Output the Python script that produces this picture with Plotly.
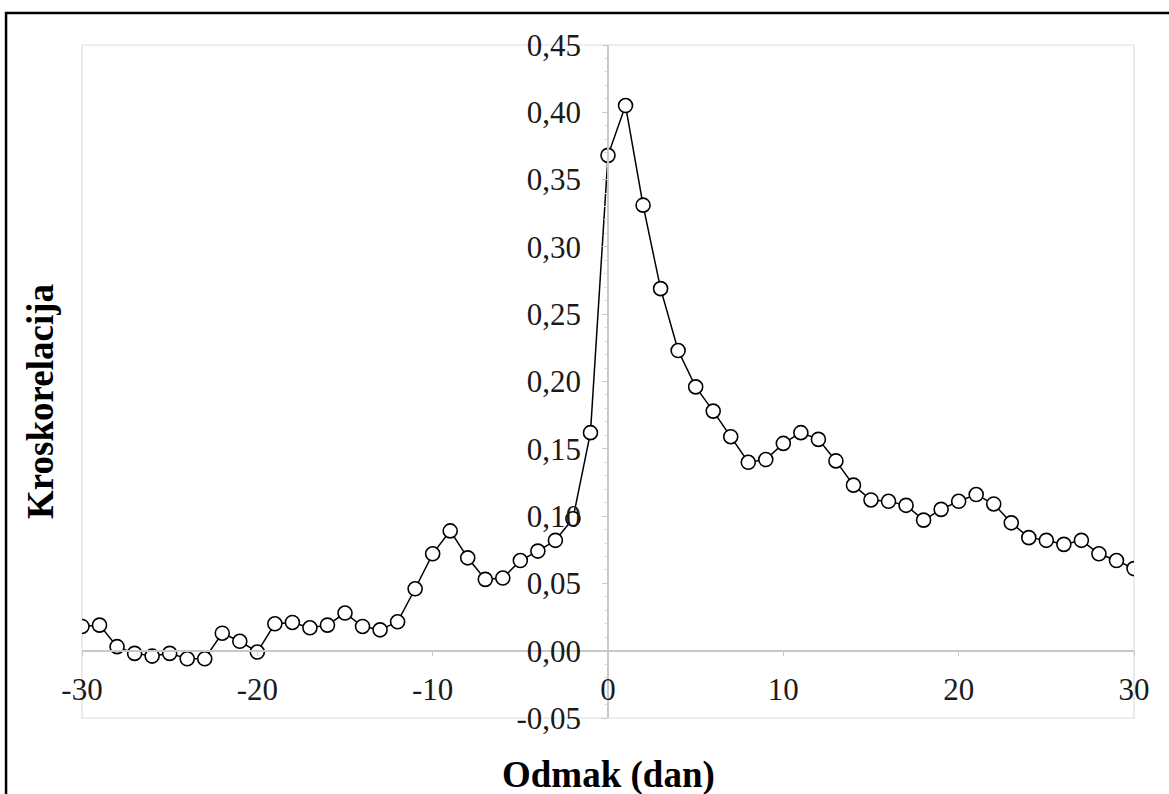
import plotly.graph_objects as go

lags = list(range(-30, 31))
xcorr = [0.018, 0.019, 0.003, -0.002, -0.004, -0.002, -0.006, -0.006, 0.013, 0.007,
         -0.001, 0.020, 0.021, 0.017, 0.019, 0.028, 0.018, 0.0155, 0.0215, 0.046,
         0.072, 0.089, 0.069, 0.053, 0.054, 0.067, 0.074, 0.082, 0.098, 0.162,
         0.368, 0.405, 0.331, 0.269, 0.223, 0.196, 0.178, 0.159, 0.140, 0.142,
         0.154, 0.162, 0.157, 0.141, 0.123, 0.112, 0.111, 0.108, 0.097, 0.105,
         0.111, 0.116, 0.109, 0.095, 0.084, 0.082, 0.079, 0.082, 0.072, 0.067,
         0.061]

x_tickvals = [-30, -20, -10, 0, 10, 20, 30]
x_ticktext = ["-30", "-20", "-10", "0", "10", "20", "30"]
y_tickvals = [-0.05, 0.0, 0.05, 0.10, 0.15, 0.20, 0.25, 0.30, 0.35, 0.40, 0.45]
y_ticktext = ["-0,05", "0,00", "0,05", "0,10", "0,15", "0,20", "0,25", "0,30", "0,35", "0,40", "0,45"]

x_title = "Odmak (dan)"
y_title = "Kroskorelacija"

fig = go.Figure()
fig.add_trace(go.Scatter(
    x=lags, y=xcorr, mode="lines+markers",
    line=dict(color="black", width=1.5),
    marker=dict(symbol="circle", size=14, color="white",
                line=dict(color="black", width=1.6)),
    showlegend=False,
))

tickfont = dict(family="Liberation Serif", size=31, color="#1a1a1a")
axis_gray = "#c8c8c8"

fig.update_layout(
    width=1169, height=794,
    margin=dict(l=82, r=35, t=45, b=76),
    paper_bgcolor="white", plot_bgcolor="white",
    xaxis=dict(
        range=[-30, 30], anchor="free", position=0.1, automargin=False,
        showgrid=False, zeroline=False, showline=True, linecolor=axis_gray, linewidth=1.5,
        ticks="outside", ticklen=5, tickcolor=axis_gray,
        tickmode="array", tickvals=x_tickvals, ticktext=x_ticktext,
        tickfont=tickfont, ticklabelstandoff=6,
    ),
    yaxis=dict(
        range=[-0.05, 0.45], anchor="free", position=0.5, automargin=False,
        showgrid=False, zeroline=False, showline=True, linecolor=axis_gray, linewidth=1.5,
        ticks="outside", ticklen=5, tickcolor=axis_gray,
        tickmode="array", tickvals=y_tickvals, ticktext=y_ticktext,
        tickfont=tickfont, ticklabelstandoff=15,
        minor=dict(tickmode="linear", tick0=0, dtick=0.01, ticks="outside",
                   ticklen=3, tickcolor="#dddddd"),
    ),
    shapes=[
        dict(type="rect", xref="paper", yref="paper", x0=0, x1=1, y0=0, y1=1,
             line=dict(color="#dedede", width=1.2), layer="below"),
        dict(type="rect", xref="paper", yref="paper", x0=-0.0722, x1=1.2, y0=-0.3, y1=1.0475,
             line=dict(color="black", width=2.5)),
    ],
    annotations=[
        dict(text=x_title, xref="paper", yref="paper", x=0.5, y=-0.084,
             xanchor="center", yanchor="middle", showarrow=False,
             font=dict(family="Liberation Serif", size=37, color="black", weight="bold")),
        dict(text=y_title, xref="paper", yref="paper", x=-0.04, y=0.471,
             xanchor="center", yanchor="middle", showarrow=False, textangle=-90,
             font=dict(family="Liberation Serif", size=37, color="black", weight="bold")),
    ],
)

fig.write_html("out.html", config={"displayModeBar": False},
               post_script="document.body.style.margin='0';")
